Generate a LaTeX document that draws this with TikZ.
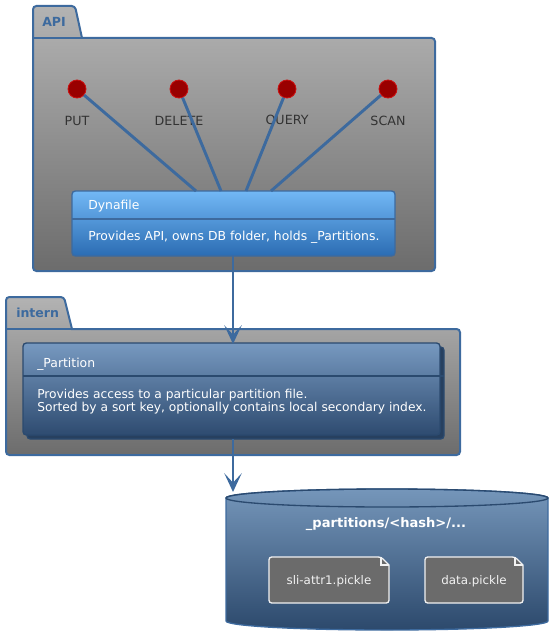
\documentclass[tikz,border=0pt]{standalone}
\usepackage{fontspec}
\setmainfont{DejaVu Sans}
\usetikzlibrary{arrows.meta,calc}
\definecolor{edge}{HTML}{3D6A9E}
\definecolor{pkgtop}{HTML}{B3B3B3}
\definecolor{pkgbot}{HTML}{6C6C6C}
\definecolor{dyntop}{HTML}{72B8F5}
\definecolor{dynbot}{HTML}{2B6CB3}
\definecolor{partop}{HTML}{7799C0}
\definecolor{parbot}{HTML}{2E4B70}
\definecolor{dbtop}{HTML}{7596BA}
\definecolor{dbbot}{HTML}{2C496C}
\definecolor{ifred}{HTML}{990000}
\definecolor{ifredb}{HTML}{CC1010}
\definecolor{lbl}{HTML}{333333}
\definecolor{filefill}{HTML}{6B6B6B}
\tikzset{
  pkgshape/.style={draw=edge, line width=1.5pt, top color=pkgtop, bottom color=pkgbot, rounded corners=2.5pt},
  pkglabel/.style={font=\fontsize{9.4}{11}\selectfont\bfseries, text=edge, anchor=west, inner sep=0pt},
  iface/.style={circle, fill=ifred, draw=ifredb, line width=0.6pt, minimum size=13.5pt, inner sep=0pt},
  ifacelabel/.style={text=lbl, font=\fontsize{9.5}{11}\selectfont, inner sep=0pt},
  link/.style={draw=edge, line width=2.2pt},
  arr/.style={draw=edge, line width=2.2pt, -{Stealth[length=14pt,width=13pt,inset=7pt]}},
  boxtext/.style={text=white, font=\fontsize{9.3}{11}\selectfont, anchor=west, inner sep=0pt, align=left},
  filebox/.style={draw=white!90!gray, line width=1pt, fill=filefill},
  filetext/.style={text=white!90!gray, font=\fontsize{8.9}{10}\selectfont, inner sep=0pt},
}
\begin{document}
\begin{tikzpicture}[x=0.75pt,y=-0.75pt]
\useasboundingbox (0,0) rectangle (554,635);

% ---- API package ----
\path[pkgshape] (33,271) -- (33,6) -- (75,6) [sharp corners] -- (82,38) [rounded corners=2.5pt] -- (435,38) -- (435,271) -- cycle;
\draw[edge, line width=1.5pt] (33,38) -- (82,38);
\node[pkglabel] (apilbl) at (42,22) {API};

% interfaces
\node[iface] (put) at (77,89) {};
\node[iface] (del) at (179,89) {};
\node[iface] (qry) at (287,89) {};
\node[iface] (scn) at (388,89) {};
\node[ifacelabel] (putl) at (77,120.5) {PUT};
\node[ifacelabel] (dell) at (179,120.5) {DELETE};
\node[ifacelabel] (qryl) at (287,120.5) {QUERY};
\node[ifacelabel] (scnl) at (388,120.5) {SCAN};

% Dynafile
\shade[top color=dyntop, bottom color=dynbot, draw=edge, line width=1pt, rounded corners=2.5pt] (72,191) rectangle (395,256);
\draw[edge, line width=1pt] (72,219) -- (395,219);
\coordinate (dyn) at (233,191);
\coordinate (d1) at (196,191);
\coordinate (d2) at (221,191);
\coordinate (d3) at (246,191);
\coordinate (d4) at (271,191);
\coordinate (dynb) at (233,256);
\node[boxtext] (dyntitle) at (88,206.5) {Dynafile};
\node[boxtext] (dynbody) at (88,237.5) {Provides API, owns DB folder, holds \_Partitions.};

\draw[link] (put) -- (d1);
\draw[link] (del) -- (d2);
\draw[link] (qry) -- (d3);
\draw[link] (scn) -- (d4);

% ---- intern package ----
\path[pkgshape] (6,455) -- (6,297) -- (64,297) [sharp corners] -- (72,329) [rounded corners=2.5pt] -- (460,329) -- (460,455) -- cycle;
\draw[edge, line width=1.5pt] (6,329) -- (72,329);
\node[pkglabel] (internlbl) at (16,313) {intern};

% _Partition (stacked)
\fill[parbot!85!black, rounded corners=2.5pt] (27,347) rectangle (444,439);
\draw[edge!70!black, line width=1pt, rounded corners=2.5pt] (27,347) rectangle (444,439);
\shade[top color=partop, bottom color=parbot, draw=edge!70!black, line width=1pt, rounded corners=2.5pt] (23,343) rectangle (440,435);
\draw[edge!70!black, line width=1pt] (23,376) -- (444,376);
\coordinate (part) at (233,344);
\coordinate (partb) at (233,439);
\node[boxtext] (partitle) at (37,364.5) {\_Partition};
\node[boxtext, font=\fontsize{9.2}{11}\selectfont] (parbody) at (37,401.5) {Provides access to a particular partition file.\\[-1pt]Sorted by a sort key, optionally contains local secondary index.};

\draw[arr] (dynb) -- (part);

% ---- database ----
\shade[top color=dbtop, bottom color=dbbot, draw=edge, line width=1pt]
  (226,498) -- (226,621) arc[start angle=180, end angle=0, x radius=161, y radius=9]
  -- (548,498) arc[start angle=0, end angle=-180, x radius=161, y radius=9] -- cycle;
\draw[edge!70!black, line width=1pt] (387,498) ellipse[x radius=161, y radius=9];
\coordinate (db) at (233,492);
\node[text=white, font=\fontsize{9.8}{11}\selectfont\bfseries, inner sep=0pt] (dblbl) at (386,524.5) {\_partitions/<hash>/...};

\draw[arr] (partb) -- (db);

% files
\path[filebox, rounded corners=2pt] (269,603) -- (269,557) -- (381,557) [sharp corners] -- (389,565) [rounded corners=2pt] -- (389,603) -- cycle;
\draw[white!90!gray, line width=1pt] (381,557) -- (381,565) -- (389,565);
\node[filetext] (f1) at (329,581) {sli-attr1.pickle};
\path[filebox, rounded corners=2pt] (425,603) -- (425,557) -- (515,557) [sharp corners] -- (523,565) [rounded corners=2pt] -- (523,603) -- cycle;
\draw[white!90!gray, line width=1pt] (515,557) -- (515,565) -- (523,565);
\node[filetext] (f2) at (474,581) {data.pickle};
\end{tikzpicture}
\end{document}
